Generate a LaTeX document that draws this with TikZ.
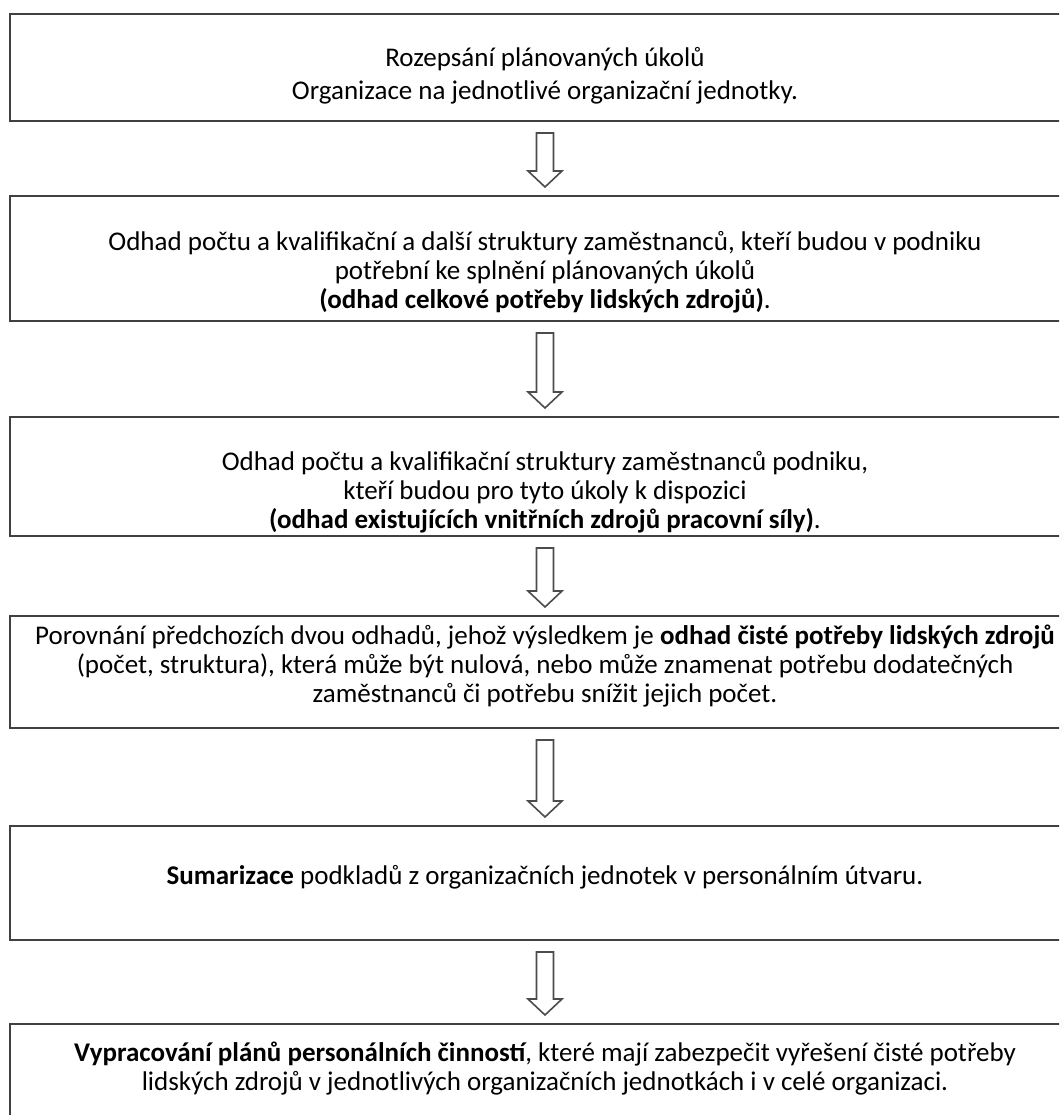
\documentclass[tikz,border=0pt]{standalone}
\usepackage{fontspec}
\setmainfont{Carlito}
\usepackage{tikz}
\usetikzlibrary{positioning,calc}
\tikzset{%
	block/.style    = {draw=black!75, line width=2pt, rectangle,
		minimum width = 1070pt},
	txt/.style      = {align=center, inner sep=0pt,
		font=\fontsize{27}{29}\selectfont},
	hollow/.style   = {draw=black!70, line width=1.6pt, fill=white, line join=miter}
}
% block arrow from the bottom of one box to the top of the next
\newcommand{\hollowarrow}[2]{%
	\draw[hollow] ($(#1.south)+(-8.5,11)$) -- ($(#1.south)+(8.5,11)$)
	-- ($(#2.north)+(8.5,-24)$) -- ($(#2.north)+(17,-24)$)
	-- ($(#2.north)+(0,-8)$) -- ($(#2.north)+(-17,-24)$)
	-- ($(#2.north)+(-8.5,-24)$) -- cycle;}

\begin{document}
\begin{tikzpicture}[x=1pt, y=-1pt]
	\useasboundingbox (0,0) rectangle (1059,1115);
	\clip (0,0) rectangle (1059,1115);
	\draw
	node at (545,67.5)[block, minimum height=107pt] (plan) {}
	node [block, minimum height=125pt, below=73pt of plan] (need) {}
	node [block, minimum height=119pt, below=94pt of need] (supply) {}
	node [block, minimum height=112pt, below=78pt of supply] (net) {}
	node [block, minimum height=114pt, below=96pt of net] (sum) {}
	node [block, minimum height=110pt, below=82pt of sum] (acts) {};
	
	\node[txt] (plantxt) at ($(plan.center)+(0,8)$) {Rozepsání plánovaných úkolů\\[4pt] Organizace na jednotlivé organizační jednotky.};
	\node[txt] (needtxt) at ($(need.center)+(0,14)$) {Odhad počtu a kvalifikační a další struktury zaměstnanců, kteří budou v podniku\\ potřební ke splnění plánovaných úkolů\\ \textbf{(odhad celkové potřeby lidských zdrojů)}.};
	\node[txt] (supplytxt) at ($(supply.center)+(0,16)$) {Odhad počtu a kvalifikační struktury zaměstnanců podniku,\\ kteří budou pro tyto úkoly k dispozici\\ \textbf{(odhad existujících vnitřních zdrojů pracovní síly)}.};
	\node[txt] (nettxt) at ($(net.center)+(0,-6)$) {Porovnání předchozích dvou odhadů, jehož výsledkem je \textbf{odhad čisté potřeby lidských zdrojů}\\ (počet, struktura), která může být nulová, nebo může znamenat potřebu dodatečných\\ zaměstnanců či potřebu snížit jejich počet.};
	\node[txt] (sumtxt) at ($(sum.center)+(0,-6)$) {\textbf{Sumarizace} podkladů z organizačních jednotek v personálním útvaru.};
	\node[txt] (actstxt) at ($(acts.center)+(0,-10)$) {\textbf{Vypracování plánů personálních činností}, které mají zabezpečit vyřešení čisté potřeby\\ lidských zdrojů v jednotlivých organizačních jednotkách i v celé organizaci.};
	
	\hollowarrow{plan}{need}
	\hollowarrow{need}{supply}
	\hollowarrow{supply}{net}
	\hollowarrow{net}{sum}
	\hollowarrow{sum}{acts}
	
\end{tikzpicture}
\end{document}
